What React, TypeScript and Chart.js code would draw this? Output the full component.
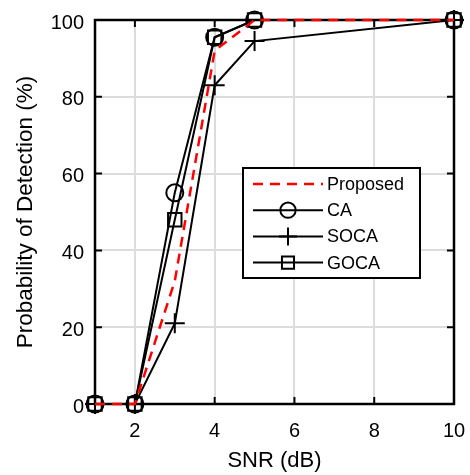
import React, { useEffect, useRef } from 'react';
import { Chart, registerables } from 'chart.js';

Chart.register(...registerables);

// Detection probability (%) against SNR (dB) for four CFAR detectors
const snrDb = [1, 2, 3, 4, 5, 10];
const proposed = [0, 0, 32, 92, 100, 100];
const ca = [0, 0, 55, 95.5, 100, 100];
const soca = [0, 0, 21, 83, 94.5, 100];
const goca = [0, 0, 48, 95.5, 100, 100];

const xTicks = [2, 4, 6, 8, 10];
const yTicks = [0, 20, 40, 60, 80, 100];
const seriesNames = ['Proposed', 'CA', 'SOCA', 'GOCA'];

const FONT = '"Liberation Sans", Arial, Helvetica, sans-serif';

const toPoints = (ys: number[]) => snrDb.map((x, i) => ({ x, y: ys[i] }));

// Box around the plot area with inward tick marks on all four sides
const framePlugin = {
  id: 'frame',
  beforeDatasetsDraw(chart: any) {
    const { ctx, chartArea: a, scales } = chart;
    const len = 7;
    ctx.save();
    ctx.strokeStyle = '#000';
    ctx.lineWidth = 2;
    ctx.beginPath();
    xTicks.forEach((v) => {
      const px = scales.x.getPixelForValue(v);
      ctx.moveTo(px, a.bottom);
      ctx.lineTo(px, a.bottom - len);
      ctx.moveTo(px, a.top);
      ctx.lineTo(px, a.top + len);
    });
    yTicks.forEach((v) => {
      const py = scales.y.getPixelForValue(v);
      ctx.moveTo(a.left, py);
      ctx.lineTo(a.left + len, py);
      ctx.moveTo(a.right, py);
      ctx.lineTo(a.right - len, py);
    });
    ctx.stroke();
    ctx.lineWidth = 2.5;
    ctx.strokeRect(a.left, a.top, a.right - a.left, a.bottom - a.top);
    ctx.restore();
  },
};

function drawMarker(ctx: CanvasRenderingContext2D, style: string, r: number, x: number, y: number) {
  ctx.beginPath();
  if (style === 'circle') {
    ctx.arc(x, y, r, 0, Math.PI * 2);
  } else if (style === 'rect') {
    const s = r * Math.SQRT1_2;
    ctx.rect(x - s, y - s, 2 * s, 2 * s);
  } else if (style === 'cross') {
    ctx.moveTo(x - r, y);
    ctx.lineTo(x + r, y);
    ctx.moveTo(x, y - r);
    ctx.lineTo(x, y + r);
  }
  ctx.stroke();
}

// Boxed legend with long line samples and the marker in the middle
const legendPlugin = {
  id: 'boxLegend',
  afterDatasetsDraw(chart: any) {
    const { ctx, chartArea: a } = chart;
    const left = a.left + 148;
    const top = a.top + 148;
    const w = 177;
    const h = 110;
    ctx.save();
    ctx.fillStyle = '#fff';
    ctx.fillRect(left, top, w, h);
    ctx.strokeStyle = '#000';
    ctx.lineWidth = 2;
    ctx.strokeRect(left, top, w, h);
    chart.data.datasets.forEach((ds: any, i: number) => {
      const y = top + 16 + i * 26.2;
      const x0 = left + 10;
      const x1 = left + 80;
      const mx = (x0 + x1) / 2;
      ctx.strokeStyle = ds.borderColor;
      ctx.lineWidth = ds.borderWidth;
      ctx.setLineDash(ds.borderDash || []);
      ctx.beginPath();
      ctx.moveTo(x0, y);
      ctx.lineTo(x1, y);
      ctx.stroke();
      ctx.setLineDash([]);
      if (ds.pointRadius > 0) {
        ctx.fillStyle = '#fff';
        ctx.strokeStyle = ds.pointBorderColor;
        ctx.lineWidth = ds.pointBorderWidth;
        drawMarker(ctx, ds.pointStyle, ds.pointRadius * 0.9, mx, y);
      }
      ctx.fillStyle = '#000';
      ctx.font = `18px ${FONT}`;
      ctx.textAlign = 'left';
      ctx.textBaseline = 'middle';
      ctx.fillText(ds.label, left + 84, y + 1);
    });
    ctx.restore();
  },
};

export default function App() {
  const canvasRef = useRef<HTMLCanvasElement | null>(null);

  useEffect(() => {
    document.body.style.margin = '0';
    const canvas = canvasRef.current;
    if (!canvas) return;

    const blackSeries = (label: string, data: number[], pointStyle: string, pointRadius: number) => ({
      label,
      data: toPoints(data),
      borderColor: '#000',
      borderWidth: 2,
      pointStyle,
      pointRadius,
      pointHoverRadius: pointRadius,
      pointBorderColor: '#000',
      pointBackgroundColor: 'rgba(0,0,0,0)',
      pointBorderWidth: 2,
      fill: false,
      tension: 0,
      clip: false,
    });

    const chart = new Chart(canvas, {
      type: 'line',
      data: {
        datasets: [
          {
            label: seriesNames[0],
            data: toPoints(proposed),
            borderColor: '#ff0000',
            borderWidth: 2.5,
            borderDash: [10, 7],
            pointRadius: 0,
            pointHoverRadius: 0,
            fill: false,
            tension: 0,
            clip: false,
          },
          blackSeries(seriesNames[1], ca, 'circle', 8.5),
          blackSeries(seriesNames[2], soca, 'cross', 10),
          blackSeries(seriesNames[3], goca, 'rect', 9.5),
        ] as any,
      },
      options: {
        responsive: false,
        animation: false,
        events: [],
        layout: { padding: { top: 20, right: 16, left: 0, bottom: 0 } },
        plugins: {
          legend: { display: false },
          tooltip: { enabled: false },
        },
        scales: {
          x: {
            type: 'linear',
            min: 1,
            max: 10,
            afterBuildTicks: (s: any) => {
              s.ticks = xTicks.map((value) => ({ value }));
            },
            afterFit: (s: any) => {
              s.height = 71;
              s.paddingLeft = 0;
              s.paddingRight = 0;
            },
            grid: { color: '#dcdcdc', lineWidth: 2, drawTicks: false },
            border: { display: false },
            ticks: {
              color: '#000',
              font: { family: FONT, size: 20 },
              padding: 15,
              maxRotation: 0,
            },
            title: {
              display: true,
              text: 'SNR (dB)',
              color: '#000',
              font: { family: FONT, size: 22 },
              padding: { top: 0, bottom: 1 },
            },
          },
          y: {
            type: 'linear',
            min: 0,
            max: 100,
            afterBuildTicks: (s: any) => {
              s.ticks = yTicks.map((value) => ({ value }));
            },
            afterFit: (s: any) => {
              s.width = 95;
              s.paddingTop = 0;
              s.paddingBottom = 0;
            },
            grid: { color: '#dcdcdc', lineWidth: 2, drawTicks: false },
            border: { display: false },
            ticks: {
              color: '#000',
              font: { family: FONT, size: 20 },
              padding: 11,
              labelOffset: 3,
            },
            title: {
              display: true,
              text: 'Probability of Detection (%)',
              color: '#000',
              font: { family: FONT, size: 22.5 },
              padding: { top: 12, bottom: 0 },
            },
          },
        },
      } as any,
      plugins: [framePlugin, legendPlugin],
    });

    return () => chart.destroy();
  }, []);

  return (
    <div style={{ width: 470, height: 475 }}>
      <canvas ref={canvasRef} width={470} height={475} />
    </div>
  );
}
